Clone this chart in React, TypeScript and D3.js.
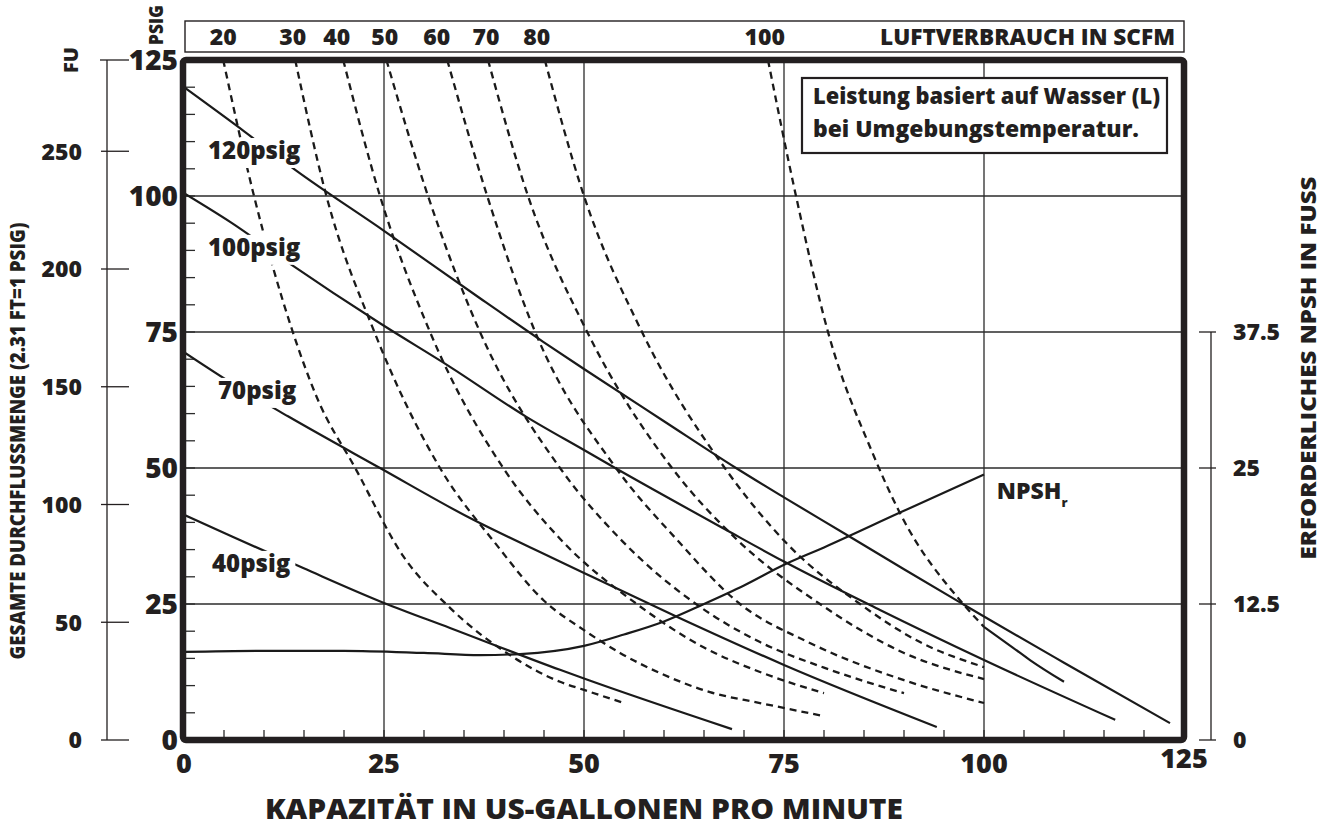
import * as d3 from "d3";
import { useEffect, useRef } from "react";

// axes
const gpmTicks = [0, 25, 50, 75, 100, 125];
const psigTicks = [0, 25, 50, 75, 100, 125];
const fuTicks = [0, 50, 100, 150, 200, 250];
const npshTicks = [0, 12.5, 25, 37.5];
const scfmLabels = ["20", "30", "40", "50", "60", "70", "80", "100"];
const scfmLabelGpm = [4.9, 13.6, 19.1, 25.1, 31.6, 37.75, 44.1, 72.6];

// performance curves, [gpm, psig]
const psig120 = [[0, 120], [7.6, 111.8], [13.9, 104.8], [25, 93.6], [37, 81.2], [44.9, 73.2], [50, 68.2], [60, 58.6], [69, 50], [75, 44.6], [82.4, 38.1], [90, 31.4], [97, 25.3], [100, 22.7], [110, 14.2], [123.25, 3.1]];
const psig100 = [[0, 100.5], [6, 95], [12.9, 87.9], [24.5, 76.6], [33.25, 68.6], [42.8, 59.4], [50, 53.3], [53.9, 50], [67.8, 38.6], [75, 32.8], [87, 23.9], [100, 14.7], [116.4, 3.7]];
const psig70 = [[0, 71.3], [5.75, 65.8], [13, 59.5], [24.5, 50], [35.75, 40.8], [46, 33.5], [50, 30.7], [62, 22.4], [75, 13.8], [94.1, 2.4]];
const psig40 = [[0, 41.4], [6, 37.4], [14.9, 31.6], [25, 25.2], [33.25, 20.6], [47, 12.9], [50, 11.3], [68.5, 2]];
const perfNames = ["120psig", "100psig", "70psig", "40psig"];
// label anchor [gpm, psig]
const perfLabelAt = [[3, 106.8], [3, 89], [4.25, 62.7], [3.5, 30.9]];

// air consumption curves, [gpm, psig]
const scfm20 = [[4.9, 125], [8.75, 100], [13.6, 75], [16.6, 63], [21.4, 50], [27.4, 33.8], [33.25, 24.3], [40.75, 15.6], [47, 10.7], [50, 9.2], [55, 6.8]];
const scfm30 = [[13.9, 125], [17.8, 100], [23.8, 75], [32, 50], [39, 36], [45, 25.6], [50, 20.2], [54.5, 16], [59.5, 12.3], [65.75, 8.8], [72, 6.8], [80, 4.4]];
const scfm40 = [[19.9, 125], [24.5, 100], [30.75, 75], [39.9, 50], [47, 37], [56.6, 25], [65, 17], [72, 12.5], [80, 8.6]];
const scfm50 = [[25.3, 125], [30.5, 100], [37, 75], [47, 50], [54.5, 37], [64, 25], [72, 18], [80, 13.3], [90, 8.6]];
const scfm60 = [[32.9, 125], [37.9, 100], [43.9, 75], [54, 50], [61.5, 37], [69.5, 25], [78, 18], [90, 11], [100, 6.8]];
const scfm70 = [[38, 125], [43, 100], [50.4, 75], [61, 50], [69, 37], [79.5, 25], [90, 16], [100, 11.2]];
const scfm80 = [[45.1, 125], [50, 100], [57.25, 75], [67.6, 50], [75.3, 36.2], [84.5, 25], [92, 18], [100, 13.4]];
const scfm100 = [[73, 125], [76.5, 100], [80.5, 75], [86, 53], [89.5, 41.7], [97.4, 25], [100, 20.8]];
const scfm100Solid = [[100, 20.8], [103.6, 17], [105.75, 14.7], [110, 10.7]];
const scfmCurves = [scfm20, scfm30, scfm40, scfm50, scfm60, scfm70, scfm80, scfm100];

// required NPSH, [gpm, ft]
const npshCurve = [[0, 8.1], [10, 8.2], [20, 8.2], [30, 8.0], [37, 7.8], [42, 7.9], [50, 8.65], [55, 9.7], [60, 10.9], [65, 12.5], [70, 14.2], [75, 16.1], [80, 17.7], [89.5, 20.9], [100, 24.4]];

const FONT = "'Open Sans', 'Noto Sans', sans-serif";
const INK = "#231f20";

export default function App() {
  const svgRef = useRef(null);
  const width = 1329;
  const height = 830;

  const x = d3.scaleLinear().domain([0, 125]).range([184, 1184]);
  const y = d3.scaleLinear().domain([0, 125]).range([740, 60]);
  const yFt = d3.scaleLinear().domain([0, 125 * 2.31]).range([740, 60]);
  const yNpsh = d3.scaleLinear().domain([0, 62.5]).range([740, 60]);

  useEffect(() => {
    document.body.style.margin = "0";
    const root = d3.select(svgRef.current);
    root.selectAll("*").remove();
    const svg = root
      .attr("width", width)
      .attr("height", height)
      .style("font-family", FONT)
      .style("font-weight", "800")
      .append("g");

    svg.append("rect").attr("width", width).attr("height", height).attr("fill", "#fff");

    svg
      .append("clipPath")
      .attr("id", "plot")
      .append("rect")
      .attr("x", x(0))
      .attr("y", y(125))
      .attr("width", x(125) - x(0))
      .attr("height", y(0) - y(125));

    // grid
    const grid = svg.append("g").attr("stroke", "#2b2b2b").attr("stroke-width", 1.3);
    grid
      .selectAll(".vg")
      .data(gpmTicks.slice(1, -1))
      .enter()
      .append("line")
      .attr("x1", (d) => x(d))
      .attr("x2", (d) => x(d))
      .attr("y1", y(0))
      .attr("y2", y(125));
    grid
      .selectAll(".hg")
      .data(psigTicks.slice(1, -1))
      .enter()
      .append("line")
      .attr("x1", x(0))
      .attr("x2", x(125))
      .attr("y1", (d) => y(d))
      .attr("y2", (d) => y(d));

    // minor ticks inside the frame
    const minor = d3.range(5, 125, 5);
    grid
      .selectAll(".mx")
      .data(minor)
      .enter()
      .append("line")
      .attr("x1", (d) => x(d))
      .attr("x2", (d) => x(d))
      .attr("y1", y(0))
      .attr("y2", y(0) - 10);
    grid
      .selectAll(".my")
      .data(minor)
      .enter()
      .append("line")
      .attr("x1", x(0))
      .attr("x2", x(0) + 11)
      .attr("y1", (d) => y(d))
      .attr("y2", (d) => y(d));

    const line = d3
      .line()
      .x((d: any) => x(d[0]))
      .y((d: any) => y(d[1]))
      .curve(d3.curveMonotoneX);
    const npshLine = d3
      .line()
      .x((d: any) => x(d[0]))
      .y((d: any) => yNpsh(d[1]))
      .curve(d3.curveMonotoneX);

    const curves = svg.append("g").attr("clip-path", "url(#plot)").attr("fill", "none").attr("stroke", "#1a1a1a");

    curves
      .selectAll(".scfm")
      .data(scfmCurves)
      .enter()
      .append("path")
      .attr("d", (d: any) => line(d))
      .attr("stroke-width", 2.3)
      .attr("stroke-dasharray", "7 5");
    curves.append("path").attr("d", line(scfm100Solid as any)).attr("stroke-width", 2.2);

    curves
      .selectAll(".perf")
      .data([psig120, psig100, psig70, psig40])
      .enter()
      .append("path")
      .attr("d", (d: any) => line(d))
      .attr("stroke-width", 2.2);

    curves.append("path").attr("d", npshLine(npshCurve as any)).attr("stroke-width", 2.2);

    // curve labels on a white patch that breaks the lines
    perfNames.forEach((name, i) => {
      const [lx, ly] = perfLabelAt[i];
      const g = svg.append("g");
      const bg = g.append("rect").attr("fill", "#fff");
      const t = g
        .append("text")
        .attr("x", x(lx))
        .attr("y", y(ly))
        .attr("font-size", 24)
        .attr("fill", INK)
        .text(name);
      const w = (t.node() as any).getComputedTextLength();
      bg.attr("x", x(lx) - 5)
        .attr("y", y(ly) - 21)
        .attr("width", w + 10)
        .attr("height", 30);
    });

    const np = svg
      .append("text")
      .attr("x", x(101.6))
      .attr("y", y(44.3))
      .attr("font-size", 23)
      .attr("fill", INK);
    np.append("tspan").text("NPSH");
    np.append("tspan").attr("font-size", 13).attr("dy", 8).text("r");

    // note box
    svg
      .append("rect")
      .attr("x", 802)
      .attr("y", 78)
      .attr("width", 365)
      .attr("height", 75)
      .attr("fill", "#fff")
      .attr("stroke", INK)
      .attr("stroke-width", 2.2);
    svg
      .append("text")
      .attr("x", 813)
      .attr("y", 104)
      .attr("font-size", 22)
      .attr("fill", INK)
      .attr("textLength", 347)
      .attr("lengthAdjust", "spacingAndGlyphs")
      .text("Leistung basiert auf Wasser (L)");
    svg
      .append("text")
      .attr("x", 813)
      .attr("y", 137)
      .attr("font-size", 22)
      .attr("fill", INK)
      .attr("textLength", 326)
      .attr("lengthAdjust", "spacingAndGlyphs")
      .text("bei Umgebungstemperatur.");

    // frame
    svg
      .append("rect")
      .attr("x", x(0) - 1)
      .attr("y", y(125))
      .attr("width", x(125) - x(0) + 1)
      .attr("height", y(0) - y(125))
      .attr("rx", 3)
      .attr("fill", "none")
      .attr("stroke", INK)
      .attr("stroke-width", 6.5);

    // psig labels
    svg
      .selectAll(".pl")
      .data(psigTicks)
      .enter()
      .append("text")
      .attr("x", x(0) - 6)
      .attr("y", (d) => y(d))
      .attr("dy", "0.36em")
      .attr("text-anchor", "end")
      .attr("font-size", 28)
      .attr("fill", INK)
      .text((d) => d);

    // gpm labels
    svg
      .selectAll(".gl")
      .data(gpmTicks)
      .enter()
      .append("text")
      .attr("x", (d) => x(d))
      .attr("y", (d) => (d === 125 ? 768 : 773))
      .attr("text-anchor", "middle")
      .attr("font-size", 27)
      .attr("fill", INK)
      .text((d) => d);

    svg
      .append("text")
      .attr("x", 584)
      .attr("y", 819)
      .attr("text-anchor", "middle")
      .attr("font-size", 29)
      .attr("fill", INK)
      .attr("textLength", 638)
      .attr("lengthAdjust", "spacingAndGlyphs")
      .text("KAPAZITÄT IN US-GALLONEN PRO MINUTE");

    // feet axis on the left
    const fu = svg.append("g");
    fu.append("line")
      .attr("x1", 107)
      .attr("x2", 107)
      .attr("y1", y(0))
      .attr("y2", y(125))
      .attr("stroke", INK)
      .attr("stroke-width", 1.3);
    fu.selectAll(".ft")
      .data(fuTicks)
      .enter()
      .append("line")
      .attr("x1", 101)
      .attr("x2", 129)
      .attr("y1", (d) => yFt(d))
      .attr("y2", (d) => yFt(d))
      .attr("stroke", INK)
      .attr("stroke-width", 1.3);
    fu.append("line")
      .attr("x1", 100)
      .attr("x2", 129)
      .attr("y1", y(125))
      .attr("y2", y(125))
      .attr("stroke", INK)
      .attr("stroke-width", 1.3);
    fu.selectAll(".fl")
      .data(fuTicks)
      .enter()
      .append("text")
      .attr("x", 82)
      .attr("y", (d) => yFt(d))
      .attr("dy", "0.36em")
      .attr("text-anchor", "end")
      .attr("font-size", 23)
      .attr("fill", INK)
      .text((d) => d);

    svg
      .append("text")
      .attr("transform", "translate(78,60) rotate(-90)")
      .attr("text-anchor", "middle")
      .attr("font-size", 20)
      .attr("fill", INK)
      .text("FU");
    svg
      .append("text")
      .attr("transform", "translate(163,25) rotate(-90)")
      .attr("text-anchor", "middle")
      .attr("font-size", 20)
      .attr("fill", INK)
      .attr("textLength", 40)
      .attr("lengthAdjust", "spacingAndGlyphs")
      .text("PSIG");
    svg
      .append("text")
      .attr("transform", "translate(25,441) rotate(-90)")
      .attr("text-anchor", "middle")
      .attr("font-size", 21)
      .attr("fill", INK)
      .attr("textLength", 437)
      .attr("lengthAdjust", "spacingAndGlyphs")
      .text("GESAMTE DURCHFLUSSMENGE (2.31 FT=1 PSIG)");

    // NPSH axis on the right
    const rt = svg.append("g");
    rt.append("line")
      .attr("x1", 1211)
      .attr("x2", 1211)
      .attr("y1", yNpsh(0))
      .attr("y2", yNpsh(37.5))
      .attr("stroke", INK)
      .attr("stroke-width", 1.3);
    rt.selectAll(".nt")
      .data(npshTicks)
      .enter()
      .append("line")
      .attr("x1", 1199)
      .attr("x2", 1216)
      .attr("y1", (d) => yNpsh(d))
      .attr("y2", (d) => yNpsh(d))
      .attr("stroke", INK)
      .attr("stroke-width", 1.3);
    rt.selectAll(".nl")
      .data(npshTicks)
      .enter()
      .append("text")
      .attr("x", 1233)
      .attr("y", (d) => yNpsh(d))
      .attr("dy", "0.36em")
      .attr("font-size", 23)
      .attr("fill", INK)
      .text((d) => d);
    svg
      .append("text")
      .attr("transform", "translate(1316,368) rotate(-90)")
      .attr("text-anchor", "middle")
      .attr("font-size", 21)
      .attr("fill", INK)
      .attr("textLength", 383)
      .attr("lengthAdjust", "spacingAndGlyphs")
      .text("ERFORDERLICHES NPSH IN FUSS");

    // air consumption scale on top
    svg
      .append("rect")
      .attr("x", x(0) + 1)
      .attr("y", 21)
      .attr("width", x(125) - x(0) - 1)
      .attr("height", 31)
      .attr("fill", "none")
      .attr("stroke", INK)
      .attr("stroke-width", 1.4);
    svg
      .selectAll(".sl")
      .data(scfmLabelGpm)
      .enter()
      .append("text")
      .attr("x", (d) => x(d))
      .attr("y", 45)
      .attr("text-anchor", "middle")
      .attr("font-size", 23)
      .attr("fill", INK)
      .text((d, i) => scfmLabels[i]);
    svg
      .append("text")
      .attr("x", 1175)
      .attr("y", 45)
      .attr("text-anchor", "end")
      .attr("font-size", 22)
      .attr("fill", INK)
      .attr("textLength", 295)
      .attr("lengthAdjust", "spacingAndGlyphs")
      .text("LUFTVERBRAUCH IN SCFM");
  }, []);

  return <svg ref={svgRef}></svg>;
}
